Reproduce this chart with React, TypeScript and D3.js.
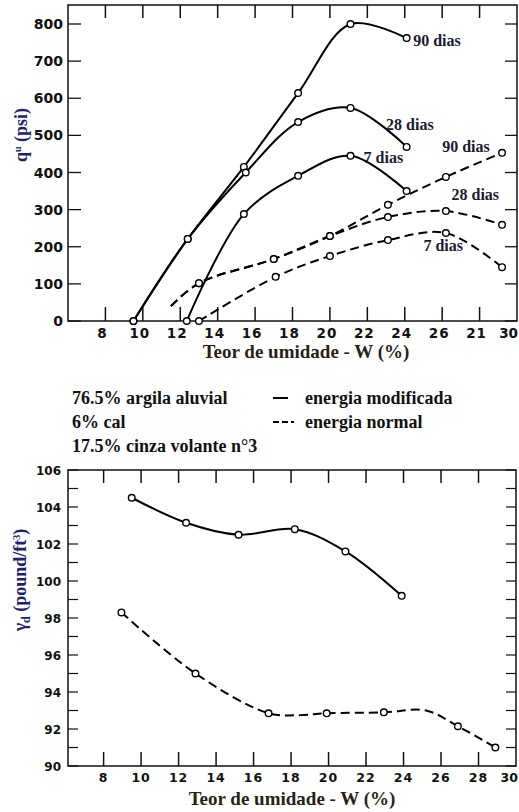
import React from "react";
import * as d3 from "d3";

// ---------- data (top chart: qu vs W) ----------
const xTickValues = [8, 10, 12, 14, 16, 18, 20, 22, 24, 26, 28, 30];
const topXTickLabels = ["8", "10", "12", "14", "16", "18", "20", "22", "24", "26", "21", "30"];
const bottomXTickLabels = ["8", "10", "12", "14", "16", "18", "20", "22", "24", "26", "28", "30"];
const topYTicks = [0, 100, 200, 300, 400, 500, 600, 700, 800];
const bottomYTicks = [90, 92, 94, 96, 98, 100, 102, 104, 106];
const bottomYMinor = [91, 93, 95, 97, 99, 101, 103, 105];

// solid = energia modificada
const mod90W = [9.5, 12.4, 15.4, 18.3, 21.1, 24.1];
const mod90Q = [0, 221, 415, 614, 800, 762];
const mod28W = [9.5, 12.4, 15.5, 18.3, 21.1, 24.1];
const mod28Q = [0, 221, 400, 536, 574, 469];
const mod7W = [12.35, 15.4, 18.3, 21.1, 24.1];
const mod7Q = [0, 288, 391, 445, 350];

// dashed = energia normal
const nor90W = [11.5, 13.0, 17.0, 20.0, 23.1, 26.2, 29.2];
const nor90Q = [40, 102, 167, 229, 313, 388, 453];
const nor90M = [false, true, true, true, true, true, true];
const nor28W = [11.5, 13.0, 17.0, 20.0, 23.1, 26.2, 29.2];
const nor28Q = [40, 102, 167, 229, 280, 296, 259];
const nor28M = [false, true, true, true, true, true, true];
const nor7W = [13.0, 17.1, 20.0, 23.1, 26.2, 29.2];
const nor7Q = [0, 119, 175, 218, 237, 145];

// ---------- data (bottom chart: gamma_d vs W) ----------
const gModW = [9.5, 12.4, 15.2, 18.2, 20.9, 23.9];
const gModV = [104.5, 103.15, 102.5, 102.8, 101.6, 99.2];
const gNorW = [8.95, 12.9, 16.8, 18.5, 19.9, 22.95, 25.2, 26.9, 28.9];
const gNorV = [98.3, 95.0, 92.85, 92.75, 92.85, 92.9, 93.0, 92.15, 91.0];
const gNorM = [true, true, true, false, true, true, false, true, true];

const curveLabels = [
  { text: "90 dias", w: 24.45, q: 742 },
  { text: "28 dias", w: 23.0, q: 515 },
  { text: "7 dias", w: 21.8, q: 425 },
  { text: "90 dias", w: 26.0, q: 455 },
  { text: "28 dias", w: 26.5, q: 325 },
  { text: "7 dias", w: 25.0, q: 188 },
];

const legendLeft = ["76.5% argila aluvial", "6% cal", "17.5% cinza volante n°3"];
const legendRight = ["energia modificada", "energia normal"];

const NUM_FONT = "DejaVu Sans, sans-serif";
const SERIF = "Liberation Serif, Tinos, Times New Roman, DejaVu Serif, serif";
const NAVY = "#1d2366";
const DARK = "#2a1f17";

type P = { w: number; v: number; m: boolean };
const zip = (w: number[], v: number[], m?: boolean[]): P[] =>
  w.map((x, i) => ({ w: x, v: v[i], m: m ? m[i] : true }));

export default function App() {
  const W = 519, H = 812;
  // top plot
  const tL = 68, tR = 517, tT = 5, tB = 321;
  const xT = d3.scaleLinear().domain([6, 30]).range([tL, tR]);
  const yT = d3.scaleLinear().domain([0, 800]).range([tB, 24]);
  // bottom plot
  const bL = 68, bR = 516, bT = 470, bB = 766;
  const xB = d3.scaleLinear().domain([6.1, 30]).range([bL, bR]);
  const yB = d3.scaleLinear().domain([90, 106]).range([bB, bT]);

  const lineT = d3
    .line<P>()
    .x((d) => xT(d.w))
    .y((d) => yT(d.v))
    .curve(d3.curveCatmullRom.alpha(0.5));
  const lineB = d3
    .line<P>()
    .x((d) => xB(d.w))
    .y((d) => yB(d.v))
    .curve(d3.curveCatmullRom.alpha(0.5));

  const topSeries = [
    { pts: zip(mod90W, mod90Q), dash: undefined },
    { pts: zip(mod28W, mod28Q), dash: undefined },
    { pts: zip(mod7W, mod7Q), dash: undefined },
    { pts: zip(nor90W, nor90Q, nor90M), dash: "9,5" },
    { pts: zip(nor28W, nor28Q, nor28M), dash: "9,5" },
    { pts: zip(nor7W, nor7Q), dash: "9,5" },
  ];
  const botSeries = [
    { pts: zip(gModW, gModV), dash: undefined },
    { pts: zip(gNorW, gNorV, gNorM), dash: "9,5" },
  ];

  const marker = (x: number, y: number, k: string) => (
    <circle key={k} cx={x} cy={y} r={3.3} fill="#fff" stroke="#000" strokeWidth={1.4} />
  );

  const serifStyle = { fontFamily: SERIF, fontWeight: 700 as const };

  return (
    <svg
      width={W}
      height={H}
      viewBox={`0 0 ${W} ${H}`}
      style={{ position: "absolute", left: 0, top: 0, background: "#fff" }}
    >
      {/* ---------------- TOP CHART ---------------- */}
      <rect x={tL} y={tT} width={tR - tL} height={tB - tT} fill="none" stroke="#111" strokeWidth={1.5} />
      {topYTicks.map((t) => (
        <g key={"ty" + t}>
          <line x1={tL} x2={tL + 13} y1={yT(t)} y2={yT(t)} stroke="#111" strokeWidth={1.3} />
          <line x1={tR} x2={tR - 12} y1={yT(t)} y2={yT(t)} stroke="#111" strokeWidth={1.3} />
          <text x={63} y={yT(t) + 5} textAnchor="end" fontFamily={NUM_FONT} fontWeight="bold" fontSize={14} fill="#111">
            {t}
          </text>
        </g>
      ))}
      {xTickValues.map((t, i) => (
        <g key={"tx" + t}>
          {t < 30 && (
            <>
              <line x1={xT(t)} x2={xT(t)} y1={tB} y2={tB - 14} stroke="#111" strokeWidth={1.5} />
              <line x1={xT(t)} x2={xT(t)} y1={tT} y2={tT + 13} stroke="#111" strokeWidth={1.5} />
            </>
          )}
          <text
            x={t === 30 ? 518 : xT(t) - 3}
            y={338}
            textAnchor={t === 30 ? "end" : "middle"}
            fontFamily={NUM_FONT}
            fontWeight="bold"
            fontSize={13.5}
            letterSpacing={t === 30 ? 0 : 1}
            fill="#111"
          >
            {topXTickLabels[i]}
          </text>
        </g>
      ))}
      {topSeries.map((s, i) => (
        <g key={"ts" + i}>
          <path d={lineT(s.pts) || ""} fill="none" stroke="#000" strokeWidth={2} strokeDasharray={s.dash} />
          {s.pts.filter((p) => p.m).map((p, j) => marker(xT(p.w), yT(p.v), `tm${i}-${j}`))}
        </g>
      ))}
      {curveLabels.map((c, i) => (
        <text key={"cl" + i} x={xT(c.w)} y={yT(c.q)} style={serifStyle} fontSize={16} fill="#1a1a33">
          {c.text}
        </text>
      ))}
      <text transform={`translate(27,135) rotate(-90)`} textAnchor="middle" style={serifStyle} fontSize={18} fill={NAVY}>
        q<tspan fontSize={10} dy={-6}>u</tspan>
        <tspan dy={6}> (psi)</tspan>
      </text>
      <text x={306} y={358} textAnchor="middle" style={serifStyle} fontSize={19} fill={DARK}>
        Teor de umidade - W (%)
      </text>

      {/* ---------------- LEGEND ---------------- */}
      {legendLeft.map((t, i) => (
        <text key={"ll" + i} x={72} y={404 + i * 24} style={serifStyle} fontSize={18} fill="#111">
          {t}
        </text>
      ))}
      {legendRight.map((t, i) => (
        <g key={"lr" + i}>
          <line
            x1={273}
            x2={294}
            y1={398 + i * 24}
            y2={398 + i * 24}
            stroke="#000"
            strokeWidth={2}
            strokeDasharray={i === 0 ? "15,30" : "6,3"}
          />
          <text x={305} y={404 + i * 24} style={serifStyle} fontSize={18} fill="#111">
            {t}
          </text>
        </g>
      ))}

      {/* ---------------- BOTTOM CHART ---------------- */}
      <rect x={bL} y={bT} width={bR - bL} height={bB - bT} fill="none" stroke="#111" strokeWidth={1.5} />
      {bottomYTicks.concat(bottomYMinor).map((t) => (
        <g key={"by" + t}>
          <line x1={bL} x2={bL + 10} y1={yB(t)} y2={yB(t)} stroke="#111" strokeWidth={1.2} />
          <line x1={bR} x2={bR - 10} y1={yB(t)} y2={yB(t)} stroke="#111" strokeWidth={1.2} />
        </g>
      ))}
      {bottomYTicks.map((t) => (
        <text key={"byl" + t} x={61} y={yB(t) + 4.5} textAnchor="end" fontFamily={NUM_FONT} fontWeight="bold" fontSize={12} fill="#111">
          {t}
        </text>
      ))}
      {xTickValues.map((t, i) => (
        <g key={"bx" + t}>
          {t < 30 && (
            <>
              <line x1={xB(t)} x2={xB(t)} y1={bB} y2={bB - 14} stroke="#111" strokeWidth={1.5} />
              <line x1={xB(t)} x2={xB(t)} y1={bT} y2={bT + 13} stroke="#111" strokeWidth={1.5} />
            </>
          )}
          <text
            x={t === 30 ? 518 : xB(t)}
            y={782}
            textAnchor={t === 30 ? "end" : "middle"}
            fontFamily={NUM_FONT}
            fontWeight="bold"
            fontSize={12.5}
            letterSpacing={t === 30 ? 0 : 1}
            fill="#111"
          >
            {bottomXTickLabels[i]}
          </text>
        </g>
      ))}
      {botSeries.map((s, i) => (
        <g key={"bs" + i}>
          <path d={lineB(s.pts) || ""} fill="none" stroke="#000" strokeWidth={2} strokeDasharray={s.dash} />
          {s.pts.filter((p) => p.m).map((p, j) => marker(xB(p.w), yB(p.v), `bm${i}-${j}`))}
        </g>
      ))}
      <text transform={`translate(26,580) rotate(-90)`} textAnchor="middle" style={serifStyle} fontSize={18} fill={NAVY}>
        γ<tspan fontSize={12} dy={4}>d</tspan>
        <tspan dy={-4}> (pound/ft</tspan>
        <tspan fontSize={10} dy={-6}>3</tspan>
        <tspan dy={6}>)</tspan>
      </text>
      <text x={292} y={805} textAnchor="middle" style={serifStyle} fontSize={19} fill={DARK}>
        Teor de umidade - W (%)
      </text>
    </svg>
  );
}
